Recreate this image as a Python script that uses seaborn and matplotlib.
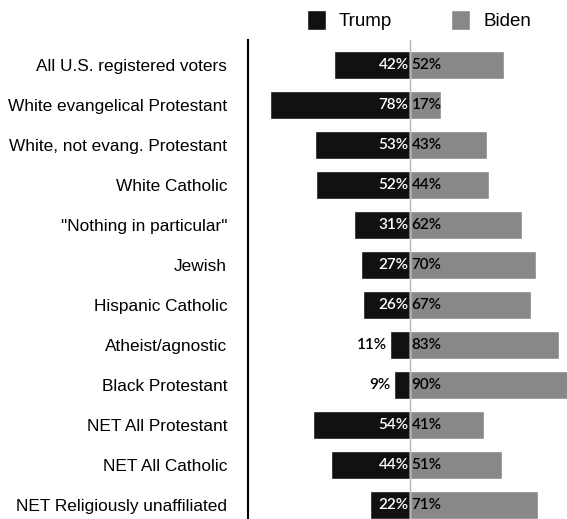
import matplotlib
matplotlib.use("Agg")
import matplotlib.pyplot as plt
from matplotlib.patches import Patch
import numpy as np
import pandas as pd
import seaborn as sns

groups = [
    "All U.S. registered voters",
    "White evangelical Protestant",
    "White, not evang. Protestant",
    "White Catholic",
    "\"Nothing in particular\"",
    "Jewish",
    "Hispanic Catholic",
    "Atheist/agnostic",
    "Black Protestant",
    "NET All Protestant",
    "NET All Catholic",
    "NET Religiously unaffiliated",
]
trump = [42, 78, 53, 52, 31, 27, 26, 11, 9, 54, 44, 22]
biden = [52, 17, 43, 44, 62, 70, 67, 83, 90, 41, 51, 71]

TRUMP_COLOR = "#111111"
BIDEN_COLOR = "#888888"

sns.set_style("white")
plt.rcParams["text.color"] = "black"
plt.rcParams["ytick.color"] = "black"

df = pd.DataFrame({"group": groups, "trump": trump, "biden": biden})
df["trump_left"] = -df["trump"]

fig = plt.figure(figsize=(5.67, 5.19), dpi=100)
ax = fig.add_axes([248 / 567, 0.0, 1 - 248 / 567, 1 - 40 / 519])

sns.barplot(data=df, x="trump_left", y="group", orient="h", color=TRUMP_COLOR,
            width=0.7, saturation=1, ax=ax)
sns.barplot(data=df, x="biden", y="group", orient="h", color=BIDEN_COLOR,
            width=0.7, saturation=1, ax=ax)

ax.set_xlim(-90, 87.2)
ax.set_ylim(11.35, -0.625)
ax.axvline(0, color="#b5b5b5", lw=1, zorder=3)

value_font = dict(family=["Lato", "DejaVu Sans"], fontsize=11, fontweight="semibold")
for i, (t, b) in enumerate(zip(trump, biden)):
    if t >= 20:
        ax.text(-0.8, i, f"{t}%", ha="right", va="center", color="white", **value_font)
    else:
        ax.text(-t - 1.8, i, f"{t}%", ha="right", va="center", color="black", **value_font)
    ax.text(0.8, i, f"{b}%", ha="left", va="center", color="black", **value_font)

ax.set_xlabel("")
ax.set_ylabel("")
ax.set_xticks([])
ax.tick_params(axis="y", length=0, pad=15, labelcolor="black")
for lab in ax.get_yticklabels():
    lab.set_family(["Liberation Sans", "DejaVu Sans"])
    lab.set_fontsize(12.4)
for side in ["top", "right", "bottom"]:
    ax.spines[side].set_visible(False)
ax.spines["left"].set_color("black")
ax.spines["left"].set_linewidth(1.5)

handles = [Patch(facecolor=TRUMP_COLOR, label="Trump"),
           Patch(facecolor=BIDEN_COLOR, label="Biden")]
fig.legend(handles=handles, loc="center", bbox_to_anchor=(419 / 567, 1 - 20 / 519),
           ncol=2, frameon=False, handlelength=1.0, handleheight=1.3,
           handletextpad=0.7, columnspacing=3.15, labelcolor="black",
           prop={"family": ["Liberation Sans", "DejaVu Sans"], "size": 13.5})

fig.savefig("out.png", dpi=100)
